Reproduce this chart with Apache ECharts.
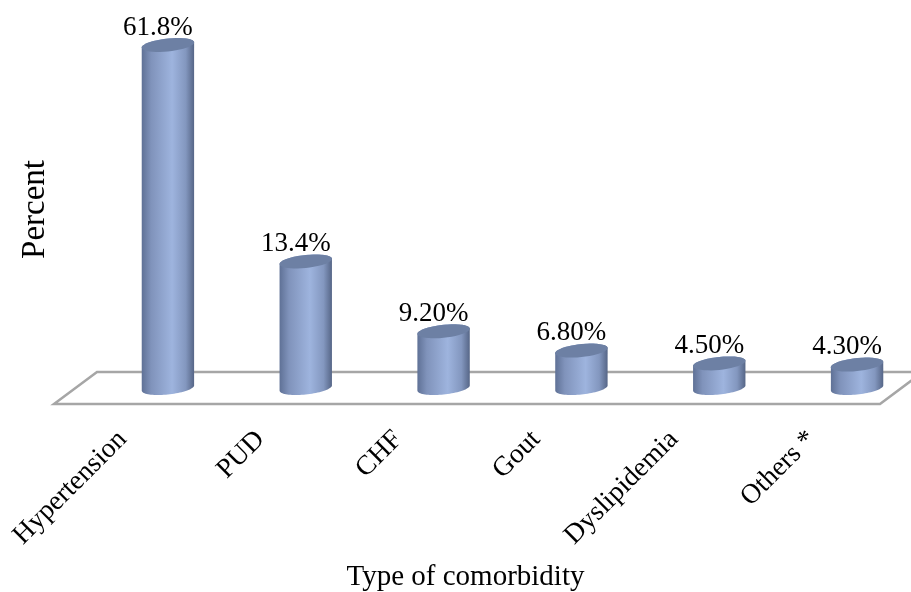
<!DOCTYPE html>
<html>
<head>
<meta charset="utf-8">
<style>html,body{margin:0;padding:0;background:#fff}#chart{width:911px;height:592px}</style>
<script src="https://cdn.jsdelivr.net/npm/echarts@6/dist/echarts.min.js"></script>
</head>
<body>
<div id="chart"></div>
<script>
const categories = ['Hypertension', 'PUD', 'CHF', 'Gout', 'Dyslipidemia', 'Others *'];
const percentValues = [61.8, 13.4, 9.2, 6.8, 4.5, 4.3];
const valueLabels = ['61.8%', '13.4%', '9.20%', '6.80%', '4.50%', '4.30%'];
const fontFamily = '"Liberation Serif", "Times New Roman", serif';

const chart = echarts.init(document.getElementById('chart'), null, { renderer: 'canvas' });

// Point on a tilted ellipse; x extent stays equal to the cylinder width.
function rimPoint(cx, cy, a, b, t) {
  const c = Math.cos(t), s = Math.sin(t);
  return [cx + a * c, cy + b * s - a * c * 0.1];
}
function arc(cx, cy, a, b, from, to) {
  const pts = [];
  const steps = 40;
  for (let i = 0; i <= steps; i++) {
    pts.push(rimPoint(cx, cy, a, b, from + (to - from) * i / steps));
  }
  return pts;
}

function renderCylinder(params, api) {
  const idx = api.value(0);
  const top = api.coord([idx, api.value(1)]);
  const base = api.coord([idx, 0]);
  const a = api.size([1, 0])[0] * 0.19;
  const b = 6.5;
  const cx = top[0];
  const body = arc(cx, base[1], a, b, 0, Math.PI).concat(arc(cx, top[1], a, b, Math.PI, 2 * Math.PI));
  return {
    type: 'group',
    children: [
      {
        type: 'polygon',
        shape: { points: body },
        style: {
          fill: new echarts.graphic.LinearGradient(0, 0, 1, 0, [
            { offset: 0, color: '#5f7196' },
            { offset: 0.18, color: '#8093bb' },
            { offset: 0.58, color: '#9eb4de' },
            { offset: 0.84, color: '#8397bf' },
            { offset: 1, color: '#566687' }
          ])
        }
      },
      {
        type: 'polygon',
        shape: { points: arc(cx, top[1], a, b, 0, 2 * Math.PI) },
        style: { fill: '#6d80a4' }
      },
      {
        type: 'text',
        style: {
          text: valueLabels[params.dataIndex],
          x: cx - 10,
          y: top[1] - 4,
          align: 'center',
          verticalAlign: 'bottom',
          fill: '#000',
          font: '27px ' + fontFamily
        }
      }
    ]
  };
}

chart.setOption({
  animation: false,
  backgroundColor: '#fff',
  grid: { left: 99, right: -15, top: 45, bottom: 204, outerBoundsMode: 'none' },
  // Floor of the pseudo-3D plot
  graphic: [{
    type: 'polygon',
    z: 0,
    shape: { points: [[97, 372], [923, 372], [880, 404], [54, 404]] },
    style: { fill: 'none', stroke: '#a6a6a6', lineWidth: 2.5 }
  }],
  xAxis: {
    type: 'category',
    data: categories,
    axisLine: { show: false },
    axisTick: { show: false },
    axisLabel: {
      rotate: 45,
      margin: 2,
      padding: [0, 64, 0, 0],
      interval: 0,
      color: '#000',
      fontSize: 27.5,
      fontFamily: fontFamily
    },
    name: 'Type of comorbidity',
    nameLocation: 'middle',
    nameGap: 175,
    nameTextStyle: { color: '#000', fontSize: 29, fontFamily: fontFamily, padding: [0, 94, 0, 0] }
  },
  yAxis: {
    type: 'value',
    min: 0,
    max: 61.8,
    axisLine: { show: false },
    axisTick: { show: false },
    axisLabel: { show: false },
    splitLine: { show: false },
    // The value scale is compressed in segments so short bars stay legible.
    breaks: [
      { start: 0, end: 4.49, gap: 1.47 },
      { start: 4.51, end: 6.79, gap: 0.75 },
      { start: 6.81, end: 9.19, gap: 1.14 },
      { start: 13.4, end: 61.8, gap: 13.02 }
    ],
    breakArea: { show: false },
    name: 'Percent',
    nameLocation: 'middle',
    nameGap: 47,
    nameTextStyle: { color: '#000', fontSize: 33, fontFamily: fontFamily, padding: [0, 0, 0, 14] }
  },
  series: [{
    type: 'custom',
    coordinateSystem: 'cartesian2d',
    clip: false,
    renderItem: renderCylinder,
    encode: { x: 0, y: 1 },
    data: percentValues.map((v, i) => [i, v])
  }]
});
</script>
</body>
</html>
